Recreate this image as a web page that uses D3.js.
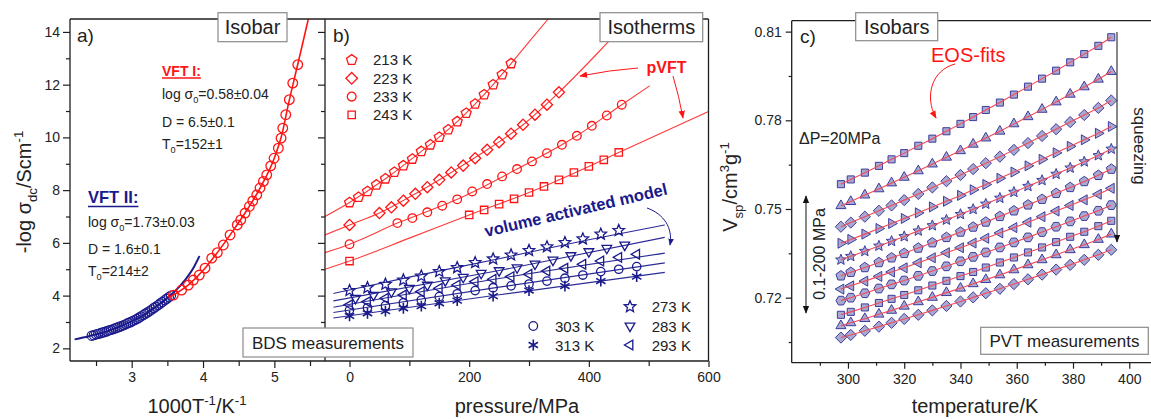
<!DOCTYPE html>
<html><head><meta charset="utf-8">
<script src="https://cdn.jsdelivr.net/npm/d3@7/dist/d3.min.js"></script>
<style>
html,body{margin:0;padding:0;background:#fff;}
svg{display:block;font-family:Arial,"Liberation Sans",Helvetica,sans-serif;}
</style></head><body>
<svg id="chart" width="1151" height="419"></svg>
<script>
// ================= DATA =================
// Panel a) isobar: -log sigma_dc vs 1000/T
const aBlueX=[2.44,2.47,2.50,2.53,2.56,2.59,2.62,2.65,2.68,2.71,2.74,2.77,2.80,2.83,2.86,2.89,2.92,2.95,2.98,3.01,3.04,3.07,3.10,3.13,3.16,3.19,3.22,3.25,3.28,3.31,3.34,3.37,3.40,3.43,3.46,3.49,3.52,3.55];
const aBlueY=[2.48,2.50,2.53,2.55,2.57,2.60,2.62,2.65,2.68,2.70,2.73,2.76,2.79,2.82,2.85,2.88,2.92,2.96,2.99,3.03,3.07,3.11,3.16,3.21,3.26,3.31,3.36,3.41,3.47,3.53,3.58,3.64,3.70,3.76,3.82,3.88,3.94,4.00];
const aRedX=[3.584,3.70,3.794,3.864,3.948,4.028,4.122,4.20,4.285,4.379,4.48,4.529,4.589,4.649,4.697,4.753,4.799,4.846,4.893,4.949,4.996,5.056,5.094,5.118,5.16,5.21,5.258,5.328];
const aRedY=[4.02,4.21,4.40,4.59,4.78,5.04,5.42,5.63,5.92,6.30,6.68,6.87,7.13,7.38,7.59,7.82,8.08,8.33,8.58,8.92,9.21,9.59,9.97,10.35,10.86,11.43,12.06,12.76];
const aBlueFitX=[2.20,2.40,2.60,2.80,3.00,3.20,3.40,3.60,3.75,3.85,3.95];
const aBlueFitY=[2.34,2.46,2.60,2.79,3.02,3.32,3.70,4.15,4.60,4.98,5.50];
const aRedFitX=[3.52,3.80,4.00,4.20,4.40,4.60,4.80,5.00,5.10,5.20,5.30,5.40,5.476];
const aRedFitY=[3.93,4.42,4.95,5.63,6.38,7.18,8.08,9.22,10.05,11.30,12.45,13.60,14.49];
const aYTicks=[2,4,6,8,10,12,14];
const aXTicks=[3,4,5];

// Panel b) isotherms: -log sigma_dc vs pressure
const b213P=[0,15,30,45,60,75,90,105,120,135,150,165,180,195,210,225,240,255,270];
const b213V=[7.53,7.73,7.95,8.20,8.43,8.68,8.93,9.18,9.47,9.72,10.01,10.29,10.60,10.92,11.27,11.62,12.00,12.38,12.80];
const b223P=[0,50,70,90,110,130,150,170,190,210,230,250,270,290,310,330,350];
const b223V=[6.68,7.13,7.35,7.60,7.86,8.11,8.39,8.67,8.93,9.21,9.53,9.82,10.14,10.48,10.86,11.24,11.71];
const b233P=[0,80,105,130,155,180,205,230,255,280,305,330,355,380,405,430,455];
const b233V=[5.95,6.75,6.94,7.16,7.41,7.65,7.95,8.23,8.52,8.80,9.09,9.40,9.72,10.06,10.44,10.83,11.24];
const b243P=[0,200,225,250,275,300,325,350,375,400,425,450];
const b243V=[5.31,7.06,7.25,7.47,7.67,7.91,8.14,8.39,8.67,8.90,9.15,9.43];
const b273P=[0,30,60,90,120,150,180,210,240,270,300,330,360,390,420,450];
const b273V=[4.19,4.30,4.43,4.59,4.74,4.91,5.06,5.25,5.39,5.54,5.71,5.85,6.01,6.15,6.33,6.47];
const b283P=[10,40,70,100,130,160,190,220,250,280,310,340,370,400,430,460];
const b283V=[3.90,4.02,4.15,4.28,4.40,4.57,4.70,4.85,4.95,5.06,5.20,5.35,5.52,5.67,5.80,5.92];
const b293P=[0,30,60,90,120,150,180,210,240,270,300,330,360,390,420,450,480];
const b293V=[3.65,3.77,3.90,4.02,4.15,4.28,4.40,4.53,4.62,4.72,4.81,4.93,5.04,5.19,5.31,5.45,5.57];
const b303P=[0,30,60,90,120,150,180,210,240,270,300,330,360,390,420,450,480];
const b303V=[3.45,3.54,3.62,3.73,3.83,3.96,4.07,4.19,4.30,4.37,4.44,4.55,4.66,4.78,4.91,5.00,5.10];
const b313P=[0,30,60,90,120,150,180,240,300,360,420,480];
const b313V=[3.23,3.33,3.41,3.52,3.60,3.71,3.81,3.98,4.19,4.36,4.55,4.72];
// pVFT fits (red) and volume activated model fits (blue)
const f213=[[-41,7.00],[0,7.53],[60,8.43],[120,9.47],[180,10.60],[240,12.00],[270,12.80],[300,13.62],[332,14.49]];
const f223=[[-41,6.30],[0,6.68],[50,7.13],[110,7.86],[170,8.67],[230,9.53],[290,10.48],[350,11.71],[400,12.85],[440,13.80],[470,14.49]];
const f233=[[-41,5.63],[0,5.95],[80,6.75],[180,7.65],[280,8.80],[380,10.06],[455,11.24],[502,11.96]];
const f243=[[-41,5.00],[0,5.31],[100,6.18],[200,7.06],[300,7.91],[400,8.90],[450,9.43],[600,10.98]];
const f273=[[-27,4.08],[100,4.70],[250,5.40],[400,6.12],[527,6.68]];
const f283=[[-27,3.80],[250,4.95],[527,6.21]];
const f293=[[-27,3.56],[250,4.65],[527,5.61]];
const f303=[[-27,3.36],[250,4.32],[527,5.24]];
const f313=[[-27,3.15],[250,4.03],[527,4.88]];
const bRedLabels=['213 K','223 K','233 K','243 K'];
const bBlueLabels=['273 K','283 K','293 K','303 K','313 K'];
const bXTicks=[0,200,400,600];

// Panel c) isobars: V_sp vs T (0.1 ... 200 MPa, step 20 MPa)
const cT=[297.5,301,306,311,315.5,320,325,330,335,340,344.5,349,354,359,364,369,374,379,384,389,393.6];
const cV000=[.7584,.7600,.7623,.7646,.7668,.7689,.7714,.7738,.7763,.7788,.7811,.7835,.7860,.7887,.7914,.7941,.7968,.7996,.8024,.8052,.8081];
const cV020=[.7511,.7525,.7547,.7568,.7588,.7607,.7629,.7652,.7675,.7697,.7719,.7740,.7763,.7788,.7812,.7837,.7862,.7888,.7913,.7939,.7965];
const cV040=[.7440,.7454,.7474,.7494,.7512,.7530,.7551,.7573,.7594,.7615,.7635,.7655,.7677,.7700,.7723,.7747,.7770,.7794,.7818,.7842,.7867];
const cV060=[.7384,.7397,.7415,.7434,.7451,.7468,.7487,.7507,.7526,.7546,.7565,.7583,.7604,.7625,.7646,.7668,.7690,.7712,.7734,.7756,.7779];
const cV080=[.7328,.7340,.7357,.7375,.7391,.7407,.7426,.7444,.7463,.7482,.7499,.7517,.7537,.7557,.7577,.7597,.7618,.7639,.7660,.7681,.7703];
const cV100=[.7274,.7286,.7302,.7319,.7335,.7350,.7368,.7386,.7404,.7422,.7439,.7456,.7475,.7494,.7514,.7533,.7553,.7573,.7593,.7614,.7635];
const cV120=[.7229,.7240,.7256,.7272,.7287,.7301,.7318,.7335,.7352,.7369,.7385,.7401,.7419,.7437,.7455,.7474,.7493,.7512,.7531,.7550,.7570];
const cV140=[.7190,.7200,.7215,.7231,.7245,.7258,.7274,.7290,.7306,.7323,.7338,.7353,.7370,.7387,.7404,.7422,.7440,.7458,.7476,.7494,.7513];
const cV160=[.7142,.7152,.7167,.7182,.7196,.7209,.7225,.7241,.7257,.7273,.7287,.7302,.7319,.7336,.7353,.7370,.7388,.7406,.7423,.7442,.7460];
const cV180=[.7105,.7115,.7129,.7144,.7157,.7171,.7186,.7201,.7217,.7232,.7247,.7261,.7277,.7294,.7311,.7328,.7345,.7362,.7379,.7397,.7415];
const cV200=[.7065,.7074,.7088,.7102,.7115,.7128,.7142,.7157,.7172,.7187,.7201,.7215,.7230,.7246,.7262,.7278,.7295,.7311,.7328,.7345,.7362];
const cYTicks=[0.72,0.75,0.78,0.81];
const cXTicks=[300,320,340,360,380,400];

// ================= DRAWING =================
const svg=d3.select('#chart');
const RED='#ff1414', NAVY='#1a1a8c', AX='#1e1e1e', TXT='#222';
const xa=d3.scaleLinear([2.135,5.71],[70,325]);
const ya=d3.scaleLinear([1.52,14.49],[361,19]);
const xb=d3.scaleLinear([-41,600],[325,708.5]);
const yb=ya.copy();
const xc=d3.scaleLinear([280,410],[791.7,1157.4]);
const yc=d3.scaleLinear([0.698,0.8137],[362.7,20.7]);

const defs=svg.append('defs');
function clip(id,x0,y0,x1,y1){defs.append('clipPath').attr('id',id).append('rect').attr('x',x0).attr('y',y0).attr('width',x1-x0).attr('height',y1-y0);}
clip('ca',70,19,325,361); clip('cb',325,19,708.5,361); clip('cc',791.7,20.7,1151,362.7);
function marker(id,color,size){
  defs.append('marker').attr('id',id).attr('viewBox','0 0 10 10').attr('refX',9).attr('refY',5)
    .attr('markerWidth',size).attr('markerHeight',size).attr('markerUnits','userSpaceOnUse').attr('orient','auto-start-reverse')
    .append('path').attr('d','M0,1L10,5L0,9Z').attr('fill',color);
}
marker('arR',RED,8); marker('arB',NAVY,7); marker('arK','#111',8);

// symbol paths
function polyPath(n,r,rot){let s='';for(let i=0;i<n;i++){const a=rot+i*2*Math.PI/n;s+=(i?'L':'M')+(r*Math.sin(a)).toFixed(2)+','+(-r*Math.cos(a)).toFixed(2);}return s+'Z';}
function starPath(r){let s='';for(let i=0;i<10;i++){const a=i*Math.PI/5;const rr=i%2?r*0.45:r;s+=(i?'L':'M')+(rr*Math.sin(a)).toFixed(2)+','+(-rr*Math.cos(a)).toFixed(2);}return s+'Z';}
function astPath(r){let s='';for(let i=0;i<3;i++){const a=i*Math.PI/3;const dx=(r*Math.sin(a)).toFixed(2),dy=(r*Math.cos(a)).toFixed(2);s+=`M${dx},${-dy}L${-dx},${dy}`;}return s;}
function circPath(r){return `M${r},0A${r},${r} 0 1,1 ${-r},0A${r},${r} 0 1,1 ${r},0Z`;}
const SH={pent:r=>polyPath(5,r,0),tri:r=>polyPath(3,r,0),triD:r=>polyPath(3,r,Math.PI),triL:r=>polyPath(3,r,-Math.PI/2),
  triR:r=>polyPath(3,r,Math.PI/2),diam:r=>polyPath(4,r,0),sq:r=>polyPath(4,r,Math.PI/4),hex:r=>polyPath(6,r,Math.PI/6),
  star:starPath,ast:astPath,circ:circPath};

function pts(g,xs,ys,xS,yS,shape,r,stroke,fill,sw){
  g.append('g').selectAll('path').data(d3.zip(xs,ys)).join('path')
   .attr('transform',d=>`translate(${xS(d[0]).toFixed(2)},${yS(d[1]).toFixed(2)})`)
   .attr('d',SH[shape](r)).attr('fill',fill).attr('stroke',stroke).attr('stroke-width',sw);
}
function line(g,data,xS,yS,color,w,curve){
  g.append('path').datum(data).attr('d',d3.line().x(d=>xS(d[0])).y(d=>yS(d[1])).curve(curve||d3.curveMonotoneX))
   .attr('fill','none').attr('stroke',color).attr('stroke-width',w);
}
function axis(gen,tx,ty,fs){
  const g=svg.append('g').attr('transform',`translate(${tx},${ty})`).call(gen);
  g.select('.domain').remove();
  g.attr('font-size',fs||14).attr('font-family','Arial, "Liberation Sans", sans-serif');
  g.selectAll('line').attr('stroke',AX).attr('stroke-width',1.2);
  g.selectAll('text').attr('fill',TXT);
  return g;
}
function seg(x1,y1,x2,y2,color,w){return svg.append('line').attr('x1',x1).attr('y1',y1).attr('x2',x2).attr('y2',y2).attr('stroke',color||AX).attr('stroke-width',w||1.3);}
function rich(x,y,parts,o){
  const t=svg.append('text').attr('font-size',o.fs).attr('fill',o.fill||TXT);
  if(o.transform) t.attr('transform',o.transform); else t.attr('x',x).attr('y',y);
  if(o.anchor) t.attr('text-anchor',o.anchor);
  if(o.weight) t.attr('font-weight',o.weight);
  let cur=0;
  parts.forEach(p=>{const s=typeof p==='string'?p:p[0];const k=typeof p==='string'?null:p[1];
    const target=k==='sub'?o.fs*0.3:(k==='sup'?-o.fs*0.42:0);
    const ts=t.append('tspan').attr('dy',(target-cur).toFixed(2)).text(s);
    if(k) ts.attr('font-size',(o.fs*0.66).toFixed(1));
    cur=target;});
  return t;
}
function box(x,y,w,h,label,fs){
  svg.append('rect').attr('x',x).attr('y',y).attr('width',w).attr('height',h).attr('fill','#fff').attr('stroke','#8a8a8a').attr('stroke-width',1.2);
  svg.append('text').attr('x',x+w/2).attr('y',y+h/2+fs*0.36).attr('text-anchor','middle').attr('font-size',fs).attr('fill',TXT).text(label);
}

// ---------- Panel a ----------
const ga=svg.append('g').attr('clip-path','url(#ca)');
line(ga,d3.zip(aBlueFitX,aBlueFitY),xa,ya,NAVY,2);
pts(ga,aBlueX,aBlueY,xa,ya,'circ',4.6,NAVY,'none',1.2);
line(ga,d3.zip(aRedFitX,aRedFitY),xa,ya,RED,1.6);
pts(ga,aRedX,aRedY,xa,ya,'circ',4.8,RED,'none',1.3);

axis(d3.axisLeft(ya).tickValues(aYTicks).tickSize(7).tickPadding(3).tickFormat(d3.format('d')),70,0);
axis(d3.axisLeft(ya).tickValues([3,5,7,9,11,13]).tickSize(4).tickFormat(''),70,0);
axis(d3.axisBottom(xa).tickValues(aXTicks).tickSize(7).tickPadding(4).tickFormat(d3.format('d')),0,361);
axis(d3.axisBottom(xa).tickValues([2.5,3.5,4.5,5.5]).tickSize(5).tickFormat(''),0,361);
axis(d3.axisLeft(yb).tickValues(aYTicks).tickSize(7).tickFormat(''),325,0);
axis(d3.axisLeft(yb).tickValues([3,5,7,9,11,13]).tickSize(4).tickFormat(''),325,0);
seg(70,19,70,361); seg(70,361,325,361); seg(70,19,325,19);

// ---------- Panel b ----------
const gb=svg.append('g').attr('clip-path','url(#cb)');
[f213,f223,f233,f243].forEach(f=>line(gb,f,xb,yb,'#ff3a3a',1.1));
[f273,f283,f293,f303,f313].forEach(f=>line(gb,f,xb,yb,'#2b2b95',1.1));
pts(gb,b213P,b213V,xb,yb,'pent',5.2,RED,'none',1.3);
pts(gb,b223P,b223V,xb,yb,'diam',5.6,RED,'none',1.3);
pts(gb,b233P,b233V,xb,yb,'circ',4.3,RED,'none',1.3);
pts(gb,b243P,b243V,xb,yb,'sq',5.2,RED,'none',1.3);
pts(gb,b273P,b273V,xb,yb,'star',6,NAVY,'none',1.3);
pts(gb,b283P,b283V,xb,yb,'triD',5.6,NAVY,'none',1.3);
pts(gb,b293P,b293V,xb,yb,'triL',5.6,NAVY,'none',1.3);
pts(gb,b303P,b303V,xb,yb,'circ',4.2,NAVY,'none',1.3);
pts(gb,b313P,b313V,xb,yb,'ast',5.4,NAVY,'none',1.6);

axis(d3.axisBottom(xb).tickValues(bXTicks).tickSize(6).tickPadding(5).tickFormat(d3.format('d')),0,361);
axis(d3.axisBottom(xb).tickValues([100,300,500]).tickSize(5).tickFormat(''),0,361);
seg(325,19,325,361); seg(325,361,708.5,361); seg(325,19,708.5,19); seg(708.5,19,708.5,361);

// legend top-left (red)
const redShapes=['pent','diam','circ','sq'], redR=[5.4,5.8,4.4,5.2];
bRedLabels.forEach((lab,i)=>{
  const yy=60+i*18.3;
  svg.append('path').attr('transform',`translate(351.7,${yy})`).attr('d',SH[redShapes[i]](redR[i])).attr('fill','none').attr('stroke',RED).attr('stroke-width',1.3);
  svg.append('text').attr('x',373).attr('y',yy+5.3).attr('font-size',15).attr('fill',TXT).text(lab);
});
// legend bottom-right (blue)
const blueLeg=[[630,306.7,'star',6],[630,326,'triD',5.6],[630,345,'triL',5.6],[533.3,326,'circ',4.3],[533.3,345,'ast',5.4]];
blueLeg.forEach((d,i)=>{
  svg.append('path').attr('transform',`translate(${d[0]},${d[1]})`).attr('d',SH[d[2]](d[3])).attr('fill','none').attr('stroke',NAVY).attr('stroke-width',i===4?1.6:1.3);
  svg.append('text').attr('x',d[0]+21.7).attr('y',d[1]+5.6).attr('font-size',15).attr('fill',TXT).text(bBlueLabels[i]);
});

// ---------- Panel c ----------
const gc=svg.append('g').attr('clip-path','url(#cc)');
const cSeries=[cV000,cV020,cV040,cV060,cV080,cV100,cV120,cV140,cV160,cV180,cV200];
const cShapes=['sq','tri','diam','triR','star','pent','triL','hex','sq','tri','diam'];
const cR={sq:5,tri:5.8,diam:5.6,triR:5.8,star:5.6,pent:5.2,triL:5.8,hex:5};
cSeries.forEach((s,i)=>pts(gc,cT,s,xc,yc,cShapes[i],cR[cShapes[i]],'#3c3c9e','#a9a9d0',1));
cSeries.forEach(s=>line(gc,d3.zip(cT,s),xc,yc,'#f24a5a',1.1,d3.curveLinear));

axis(d3.axisLeft(yc).tickValues(cYTicks).tickSize(6).tickPadding(4).tickFormat(d3.format('.2f')),791.7,0);
axis(d3.axisLeft(yc).tickValues([0.705,0.735,0.765,0.795]).tickSize(3).tickFormat(''),791.7,0);
axis(d3.axisBottom(xc).tickValues(cXTicks).tickSize(6).tickPadding(5).tickFormat(d3.format('d')),0,362.7);
axis(d3.axisBottom(xc).tickValues([290,310,330,350,370,390]).tickSize(3).tickFormat(''),0,362.7);
seg(791.7,20.7,791.7,362.7); seg(791.7,362.7,1151,362.7); seg(791.7,20.7,1151,20.7);

// ---------- Annotations ----------
svg.append('text').attr('x',77).attr('y',42).attr('font-size',19).attr('fill',TXT).text('a)');
svg.append('text').attr('x',333).attr('y',42).attr('font-size',19).attr('fill',TXT).text('b)');
svg.append('text').attr('x',800).attr('y',43).attr('font-size',19).attr('fill',TXT).text('c)');

const v1=svg.append('text').attr('x',162).attr('y',75.5).attr('font-size',14).attr('font-weight','bold').attr('fill',RED).text('VFT I:');
seg(162,78,162+v1.node().getComputedTextLength(),78,RED,1.3);
rich(162,98.5,['log σ',['0','sub'],'=0.58±0.04'],{fs:14});
rich(162,127,['D = 6.5±0.1'],{fs:14});
rich(162,148.5,['T',['0','sub'],'=152±1'],{fs:14});
const v2=svg.append('text').attr('x',88).attr('y',203).attr('font-size',16.5).attr('font-weight','bold').attr('fill',NAVY).text('VFT II:');
seg(88,206.5,88+v2.node().getComputedTextLength(),206.5,NAVY,1.4);
rich(88,226.5,['log σ',['0','sub'],'=1.73±0.03'],{fs:14});
rich(88,253.5,['D = 1.6±0.1'],{fs:14});
rich(88,275.5,['T',['0','sub'],'=214±2'],{fs:14});

svg.append('text').attr('x',646.5).attr('y',72.5).attr('font-size',16).attr('font-weight','bold').attr('fill',RED).text('pVFT');
svg.append('path').attr('d','M638,68 Q610,70 580,76').attr('fill','none').attr('stroke',RED).attr('stroke-width',1).attr('marker-end','url(#arR)');
svg.append('path').attr('d','M673,76 Q679,96 683,118').attr('fill','none').attr('stroke',RED).attr('stroke-width',1).attr('marker-end','url(#arR)');

svg.append('text').attr('transform','translate(486,237) rotate(-13.2)').attr('font-size',16.5).attr('font-weight','bold').attr('fill',NAVY).text('volume activated model');
svg.append('path').attr('d','M647,208 C664,214 673,228 670,245').attr('fill','none').attr('stroke',NAVY).attr('stroke-width',1).attr('marker-end','url(#arB)');

svg.append('text').attr('x',931).attr('y',61.5).attr('font-size',20).attr('fill',RED).text('EOS-fits');
svg.append('path').attr('d','M955,64 C932,70 924,96 936,118').attr('fill','none').attr('stroke',RED).attr('stroke-width',1).attr('marker-end','url(#arR)');
svg.append('text').attr('x',799).attr('y',143.5).attr('font-size',16).attr('fill',TXT).text('ΔP=20MPa');
svg.append('line').attr('x1',806).attr('y1',196).attr('x2',806).attr('y2',313).attr('stroke','#111').attr('stroke-width',1).attr('marker-start','url(#arK)').attr('marker-end','url(#arK)');
svg.append('text').attr('transform','translate(825,254) rotate(-90)').attr('text-anchor','middle').attr('font-size',16).attr('fill',TXT).text('0.1-200 MPa');
svg.append('line').attr('x1',1117).attr('y1',32).attr('x2',1117).attr('y2',242).attr('stroke','#111').attr('stroke-width',1).attr('marker-end','url(#arK)');
svg.append('text').attr('transform','translate(1134,146) rotate(90)').attr('text-anchor','middle').attr('font-size',17).attr('fill',TXT).text('squeezing');

box(218,12.7,69,29,'Isobar',20);
box(600,12.7,102.7,29,'Isotherms',20);
box(855.7,12.7,82,28,'Isobars',20);
box(243,328,170,29,'BDS measurements',17);
box(980.7,327.3,167.6,27,'PVT measurements',17);

rich(0,0,['-log σ',['dc','sub'],'/Scm',['-1','sup']],{fs:20,anchor:'middle',transform:'translate(31,192) rotate(-90)'});
rich(197,413,['1000T',['-1','sup'],'/K',['-1','sup']],{fs:20,anchor:'middle'});
rich(517,413,['pressure/MPa'],{fs:20,anchor:'middle'});
rich(975,413,['temperature/K'],{fs:20,anchor:'middle'});
rich(0,0,['V',['sp','sub'],'/cm',['3','sup'],'g',['-1','sup']],{fs:20,anchor:'middle',transform:'translate(737,187) rotate(-90)'});
</script>
</body></html>
